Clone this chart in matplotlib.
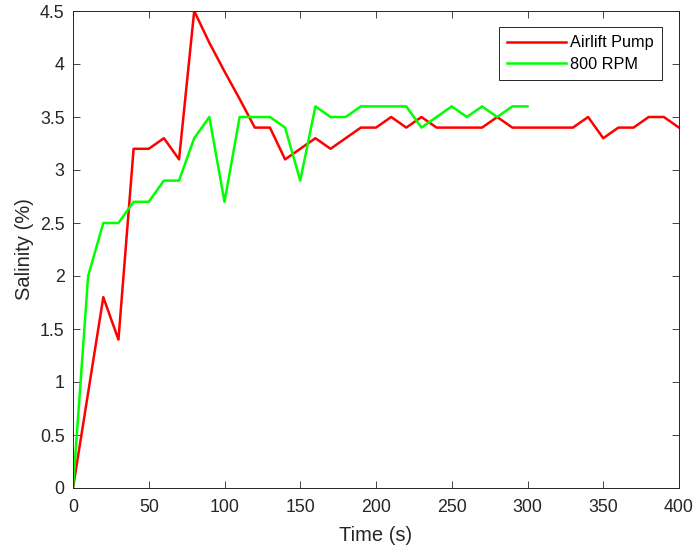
import matplotlib
matplotlib.use("Agg")
import matplotlib.pyplot as plt

plt.rcParams['font.family'] = ['Liberation Sans', 'DejaVu Sans']

# Sampling times (s)
time_airlift = [0, 10, 20, 30, 40, 50, 60, 70, 80, 90, 100, 110, 120, 130, 140,
                150, 160, 170, 180, 190, 200, 210, 220, 230, 240, 250, 260, 270,
                280, 290, 300, 310, 320, 330, 340, 350, 360, 370, 380, 390, 400]
salinity_airlift = [0, 0.9, 1.8, 1.4, 3.2, 3.2, 3.3, 3.1, 4.5, 4.2, 3.93, 3.67,
                    3.4, 3.4, 3.1, 3.2, 3.3, 3.2, 3.3, 3.4, 3.4, 3.5, 3.4, 3.5,
                    3.4, 3.4, 3.4, 3.4, 3.5, 3.4, 3.4, 3.4, 3.4, 3.4, 3.5, 3.3,
                    3.4, 3.4, 3.5, 3.5, 3.4]

time_800rpm = [0, 10, 20, 30, 40, 50, 60, 70, 80, 90, 100, 110, 120, 130, 140,
               150, 160, 170, 180, 190, 200, 210, 220, 230, 240, 250, 260, 270,
               280, 290, 300]
salinity_800rpm = [0, 2.0, 2.5, 2.5, 2.7, 2.7, 2.9, 2.9, 3.3, 3.5, 2.7, 3.5,
                   3.5, 3.5, 3.4, 2.9, 3.6, 3.5, 3.5, 3.6, 3.6, 3.6, 3.6, 3.4,
                   3.5, 3.6, 3.5, 3.6, 3.5, 3.6, 3.6]

series_labels = ['Airlift Pump', '800 RPM']
x_ticks = [0, 50, 100, 150, 200, 250, 300, 350, 400]
y_ticks = [0, 0.5, 1, 1.5, 2, 2.5, 3, 3.5, 4, 4.5]
y_tick_labels = ['0', '0.5', '1', '1.5', '2', '2.5', '3', '3.5', '4', '4.5']

axis_color = '#262626'

fig = plt.figure(figsize=(6.95, 5.5), dpi=100)
ax = fig.add_axes([73 / 695, 1 - 488 / 550, (679 - 73) / 695, (488 - 11) / 550])

ax.plot(time_airlift, salinity_airlift, color='#ff0000', lw=1.8, label=series_labels[0])
ax.plot(time_800rpm, salinity_800rpm, color='#00ff00', lw=1.8, label=series_labels[1])

ax.set_xlim(0, 400)
ax.set_ylim(0, 4.5)
ax.set_xticks(x_ticks)
ax.set_xticklabels([str(t) for t in x_ticks])
ax.set_yticks(y_ticks)
ax.set_yticklabels(y_tick_labels)

ax.tick_params(direction='in', top=True, right=True, length=5, width=0.6,
               colors=axis_color, labelsize=12.8)
ax.tick_params(axis='x', pad=8)
ax.tick_params(axis='y', pad=6)
for side in ax.spines.values():
    side.set_color(axis_color)
    side.set_linewidth(0.7)

ax.set_xlabel('Time (s)', fontsize=14.5, color=axis_color, labelpad=7)
ax.set_ylabel('Salinity (%)', fontsize=14.5, color=axis_color, labelpad=4)

leg = ax.legend(loc='upper right', bbox_to_anchor=(661.7 / 695, 1 - 27.3 / 550),
                bbox_transform=fig.transFigure, borderaxespad=0, fontsize=11.7,
                handlelength=3.6, handletextpad=0.25, borderpad=0.5,
                labelspacing=0.4, fancybox=False, framealpha=1)
leg.get_frame().set_edgecolor(axis_color)
leg.get_frame().set_linewidth(0.7)

fig.savefig('out.png', dpi=100)
